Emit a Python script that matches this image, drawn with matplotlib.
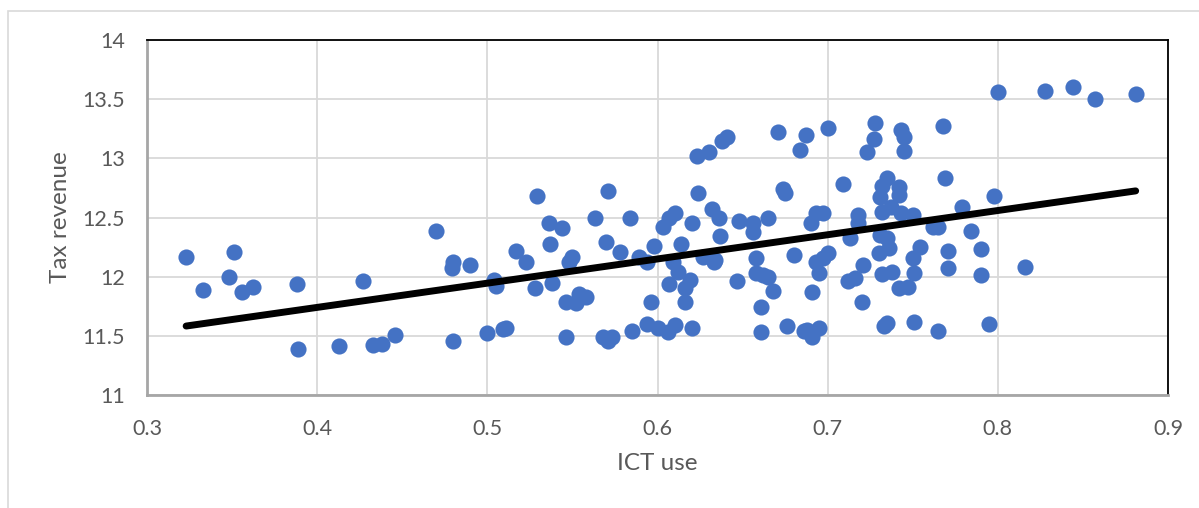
import numpy as np
import matplotlib
matplotlib.use('Agg')
import matplotlib.pyplot as plt
from matplotlib.patches import Rectangle

# ICT use (x) and tax revenue (y)
ict_use = [
    0.323, 0.333, 0.348, 0.351, 0.356, 0.362, 0.388, 0.389, 0.413, 0.427,
    0.433, 0.438, 0.446, 0.470, 0.480, 0.479, 0.490, 0.480, 0.500, 0.504,
    0.505, 0.509, 0.511, 0.517, 0.523, 0.528, 0.529, 0.536, 0.537, 0.538,
    0.544, 0.546, 0.546, 0.552, 0.548, 0.550, 0.554, 0.558, 0.563, 0.568,
    0.571, 0.573, 0.570, 0.571, 0.578, 0.584, 0.585, 0.589, 0.594, 0.594,
    0.600, 0.596, 0.598, 0.603, 0.606, 0.610, 0.607, 0.607, 0.610, 0.609,
    0.612, 0.614, 0.616, 0.619, 0.616, 0.620, 0.620, 0.623, 0.630, 0.624,
    0.627, 0.633, 0.634, 0.632, 0.636, 0.637, 0.638, 0.641, 0.647, 0.648,
    0.656, 0.656, 0.665, 0.658, 0.658, 0.662, 0.665, 0.668, 0.661, 0.661,
    0.671, 0.674, 0.675, 0.676, 0.680, 0.684, 0.687, 0.686, 0.688, 0.691,
    0.695, 0.691, 0.690, 0.693, 0.697, 0.693, 0.697, 0.700, 0.695, 0.700,
    0.709, 0.712, 0.716, 0.713, 0.718, 0.718, 0.720, 0.721, 0.723, 0.727,
    0.728, 0.730, 0.731, 0.732, 0.735, 0.742, 0.742, 0.732, 0.737, 0.743,
    0.750, 0.731, 0.735, 0.736, 0.732, 0.738, 0.733, 0.735, 0.743, 0.745,
    0.745, 0.742, 0.747, 0.750, 0.751, 0.751, 0.754, 0.762, 0.765, 0.765,
    0.768, 0.769, 0.771, 0.771, 0.798, 0.779, 0.784, 0.790, 0.790, 0.816,
    0.795, 0.800, 0.828, 0.844, 0.857, 0.881,
]
tax_revenue = [
    12.17, 11.89, 12.00, 12.21, 11.87, 11.91, 11.94, 11.39, 11.41, 11.96,
    11.42, 11.43, 11.51, 12.39, 12.12, 12.07, 12.10, 11.46, 11.52, 11.97,
    11.92, 11.56, 11.57, 12.22, 12.12, 11.90, 12.68, 12.45, 12.28, 11.95,
    12.41, 11.49, 11.79, 11.78, 12.12, 12.17, 11.85, 11.83, 12.50, 11.49,
    11.46, 11.49, 12.29, 12.72, 12.21, 12.50, 11.54, 12.17, 12.12, 11.60,
    11.57, 11.79, 12.26, 12.42, 11.53, 11.59, 11.94, 12.50, 12.54, 12.12,
    12.04, 12.28, 11.90, 11.97, 11.79, 12.45, 11.57, 13.02, 13.05, 12.71,
    12.17, 12.12, 12.14, 12.57, 12.50, 12.34, 13.15, 13.18, 11.96, 12.47,
    12.45, 12.38, 12.50, 12.16, 12.03, 12.01, 12.00, 11.88, 11.74, 11.53,
    13.22, 12.74, 12.71, 11.58, 12.18, 13.07, 13.20, 11.54, 11.55, 11.49,
    11.57, 11.87, 12.45, 12.54, 12.54, 12.12, 12.16, 12.20, 12.03, 13.26,
    12.78, 11.96, 11.99, 12.33, 12.52, 12.45, 11.79, 12.10, 13.05, 13.16,
    13.30, 12.20, 12.67, 12.77, 12.83, 12.76, 12.69, 12.55, 12.59, 12.54,
    12.52, 12.35, 12.33, 12.24, 12.02, 12.04, 11.58, 11.61, 13.24, 13.18,
    13.06, 11.90, 11.91, 12.16, 12.03, 11.62, 12.25, 12.42, 12.42, 11.54,
    13.27, 12.83, 12.22, 12.07, 12.68, 12.59, 12.39, 12.23, 12.01, 12.08,
    11.60, 13.56, 13.57, 13.60, 13.50, 13.54,
]

x_ticks = [0.3, 0.4, 0.5, 0.6, 0.7, 0.8, 0.9]
y_ticks = [11, 11.5, 12, 12.5, 13, 13.5, 14]

x = np.array(ict_use)
y = np.array(tax_revenue)

# linear trend line (least squares), drawn over the data range
slope, intercept = np.polyfit(x, y, 1)
trend_x = np.array([x.min(), x.max()])
trend_y = slope * trend_x + intercept

plt.rcParams['font.family'] = ['Lato', 'DejaVu Sans']

fig = plt.figure(figsize=(11.99, 5.08), dpi=100)
ax = fig.add_axes([147 / 1199, 1 - 395 / 508, 1021 / 1199, 355 / 508])

# light chart-area border
fig.patches.append(Rectangle((8 / 1199, -0.05), 1.1, 1 - 11 / 508 + 0.05,
                             transform=fig.transFigure, fill=False,
                             edgecolor='#d9d9d9', linewidth=1.2))

ax.scatter(x, y, s=135, color='#4472C4', zorder=3, linewidths=0)
ax.plot(trend_x, trend_y, color='black', linewidth=5, solid_capstyle='round', zorder=4)

ax.set_xlim(0.3, 0.9)
ax.set_ylim(11, 14)
ax.set_xticks(x_ticks)
ax.set_yticks(y_ticks)
ax.set_xticklabels([f'{v:g}' for v in x_ticks])
ax.set_yticklabels([f'{v:g}' for v in y_ticks])
ax.grid(True, color='#d9d9d9', linewidth=1.3, zorder=0)
ax.set_axisbelow(True)

ax.tick_params(length=0, labelsize=15.5, colors='#595959')
ax.tick_params(axis='y', pad=16)
ax.tick_params(axis='x', pad=17)

ax.spines['top'].set_color('black')
ax.spines['right'].set_color('black')
ax.spines['top'].set_linewidth(1.3)
ax.spines['right'].set_linewidth(1.3)
ax.spines['left'].set_color('#a6a6a6')
ax.spines['bottom'].set_color('#a6a6a6')
ax.spines['left'].set_linewidth(2)
ax.spines['bottom'].set_linewidth(2)

ax.set_xlabel('ICT use', fontsize=17.5, color='#595959', labelpad=10)
ax.set_ylabel('Tax revenue', fontsize=17.5, color='#595959', labelpad=8)

fig.savefig('out.png', dpi=100)
